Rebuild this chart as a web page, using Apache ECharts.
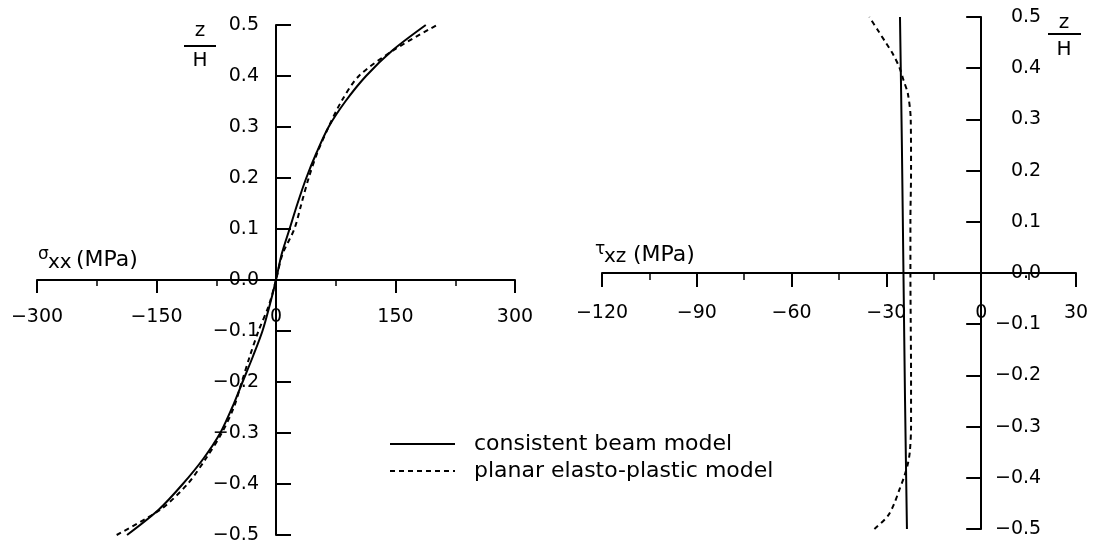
<!DOCTYPE html>
<html><head><meta charset="utf-8">
<script src="https://cdn.jsdelivr.net/npm/echarts@6/dist/echarts.min.js"></script>
<style>html,body{margin:0;padding:0;background:#fff}#c{width:1098px;height:550px}</style>
</head><body><div id="c"></div>
<script>
// ---- data ----
const seriesNames = ['consistent beam model', 'planar elasto-plastic model'];
const zLevels = [-0.5, -0.45, -0.4, -0.35, -0.3, -0.25, -0.2, -0.15, -0.1, -0.05, 0, 0.05, 0.1, 0.15, 0.2, 0.25, 0.3, 0.35, 0.4, 0.45, 0.5];
const sigmaBeam = [-187, -147, -117, -91, -70, -55, -42, -29, -17, -8, 0, 7, 17, 27, 38, 51, 66, 87, 113, 146, 188];
const sigmaPlanar = [-200, -145, -111, -88, -68, -53, -43, -33, -22, -9, 0, 8, 23, 32, 41, 52, 66, 82, 104, 147, 202];
const zTauBeam = [-0.5, -0.25, 0, 0.25, 0.5];
const tauBeam = [-23.5, -24.1, -24.6, -25.1, -25.7];
const zTauPlanar = [-0.5, -0.475, -0.45, -0.425, -0.4, -0.375, -0.35, -0.3, -0.2, -0.1, 0, 0.1, 0.2, 0.3, 0.35, 0.375, 0.4, 0.425, 0.45, 0.475, 0.5];
const tauPlanar = [-33.8, -29.6, -27.5, -26.0, -24.5, -23.3, -22.6, -22.2, -22.2, -22.3, -22.4, -22.4, -22.2, -22.3, -23.2, -24.5, -25.8, -27.7, -30.2, -32.8, -35.4];
const sigmaTicks = [-300, -150, 0, 150, 300];
const tauTicks = [-120, -90, -60, -30, 0, 30];
const zTicks = [-0.5, -0.4, -0.3, -0.2, -0.1, 0, 0.1, 0.2, 0.3, 0.4, 0.5];

// ---- layout ----
const FONT = 'DejaVu Sans';
const black = '#000';
const grids = [
  { left: 37, top: 25, width: 478, height: 510, outerBoundsMode: 'none', containLabel: false },
  { left: 602, top: 17, width: 474, height: 512, outerBoundsMode: 'none', containLabel: false }
];
const first = a => a[0], last = a => a[a.length - 1];
const zeroFrac = ticks => (0 - first(ticks)) / (last(ticks) - first(ticks));

const pair = (xs, zs) => xs.map((x, i) => [x, zs[i]]);
const fmtZ = v => (Math.abs(v) < 1e-9 ? 0 : v).toFixed(1).replace('-', '\u2212');
const fmtX = v => String(Math.round(v)).replace('-', '\u2212');
const labelStyle = { color: black, fontSize: 19, fontFamily: FONT };

function xAxisCfg(gi, ticks, margin, tickLen, minorLen) {
  return {
    type: 'value', gridIndex: gi, position: 'bottom',
    offset: -grids[gi].height * zeroFrac(zTicks),
    min: first(ticks), max: last(ticks), interval: ticks[1] - ticks[0],
    axisLine: { onZero: false, lineStyle: { color: black, width: 2 } },
    axisTick: { show: true, length: tickLen, lineStyle: { color: black, width: 2 } },
    minorTick: { show: true, splitNumber: 2, length: minorLen, lineStyle: { color: black, width: 1.5 } },
    splitLine: { show: false }, minorSplitLine: { show: false },
    axisLabel: Object.assign({ margin: margin, formatter: fmtX }, labelStyle)
  };
}
function yAxisCfg(gi, xticks, pos, margin) {
  const f = zeroFrac(xticks);
  return {
    type: 'value', gridIndex: gi, position: pos,
    offset: pos === 'left' ? -grids[gi].width * f : -grids[gi].width * (1 - f),
    min: first(zTicks), max: last(zTicks), interval: 0.1,
    axisLine: { onZero: false, lineStyle: { color: black, width: 2 } },
    axisTick: { show: true, inside: true, length: 15, lineStyle: { color: black, width: 2 } },
    splitLine: { show: false },
    axisLabel: Object.assign({ margin: margin, align: 'right', formatter: fmtZ }, labelStyle)
  };
}
function lineSeries(name, data, xi, dashed) {
  return {
    name: name, type: 'line', xAxisIndex: xi, yAxisIndex: xi, data: data,
    symbol: 'none', showSymbol: false, smooth: 0.3, clip: false,
    lineStyle: { color: black, width: 2, type: dashed ? [5, 4] : 'solid' },
    itemStyle: { color: black }
  };
}
function txt(x, y, s, size, align) {
  return { type: 'text', x: x, y: y, silent: true,
    style: { text: s, fill: black, fontSize: size, fontFamily: FONT, align: align || 'center', verticalAlign: 'middle' } };
}

const chart = echarts.init(document.getElementById('c'), null, { renderer: 'canvas' });
chart.setOption({
  animation: false,
  backgroundColor: '#fff',
  grid: grids,
  xAxis: [xAxisCfg(0, sigmaTicks, 28, 13, 6), xAxisCfg(1, tauTicks, 31, 14, 7)],
  yAxis: [yAxisCfg(0, sigmaTicks, 'left', 17), yAxisCfg(1, tauTicks, 'right', 60)],
  legend: {
    data: seriesNames, orient: 'vertical', left: 384, top: 428,
    itemWidth: 65, itemHeight: 14, itemGap: 5, selectedMode: false,
    itemStyle: { opacity: 0 },
    textStyle: { color: black, fontSize: 22, fontFamily: FONT, padding: [0, 0, 0, 14] }
  },
  series: [
    lineSeries(seriesNames[0], pair(sigmaBeam, zLevels), 0, false),
    lineSeries(seriesNames[1], pair(sigmaPlanar, zLevels), 0, true),
    lineSeries(seriesNames[0], pair(tauBeam, zTauBeam), 1, false),
    lineSeries(seriesNames[1], pair(tauPlanar, zTauPlanar), 1, true)
  ],
  graphic: [
    txt(200, 31, 'z', 20),
    { type: 'line', silent: true, shape: { x1: 184, y1: 46, x2: 216, y2: 46 }, style: { stroke: black, lineWidth: 2 } },
    txt(200, 61, 'H', 20),
    txt(1064, 23, 'z', 20),
    { type: 'line', silent: true, shape: { x1: 1048, y1: 34, x2: 1081, y2: 34 }, style: { stroke: black, lineWidth: 2 } },
    txt(1064, 50, 'H', 20),
    txt(38, 255, '\u03c3', 17, 'left'),
    txt(48, 263, 'xx', 20, 'left'),
    txt(76, 260, '(MPa)', 22, 'left'),
    txt(595, 250, '\u03c4', 17, 'left'),
    txt(604, 257, 'xz', 20, 'left'),
    txt(633, 255, '(MPa)', 22, 'left')
  ]
});
</script>
</body></html>
